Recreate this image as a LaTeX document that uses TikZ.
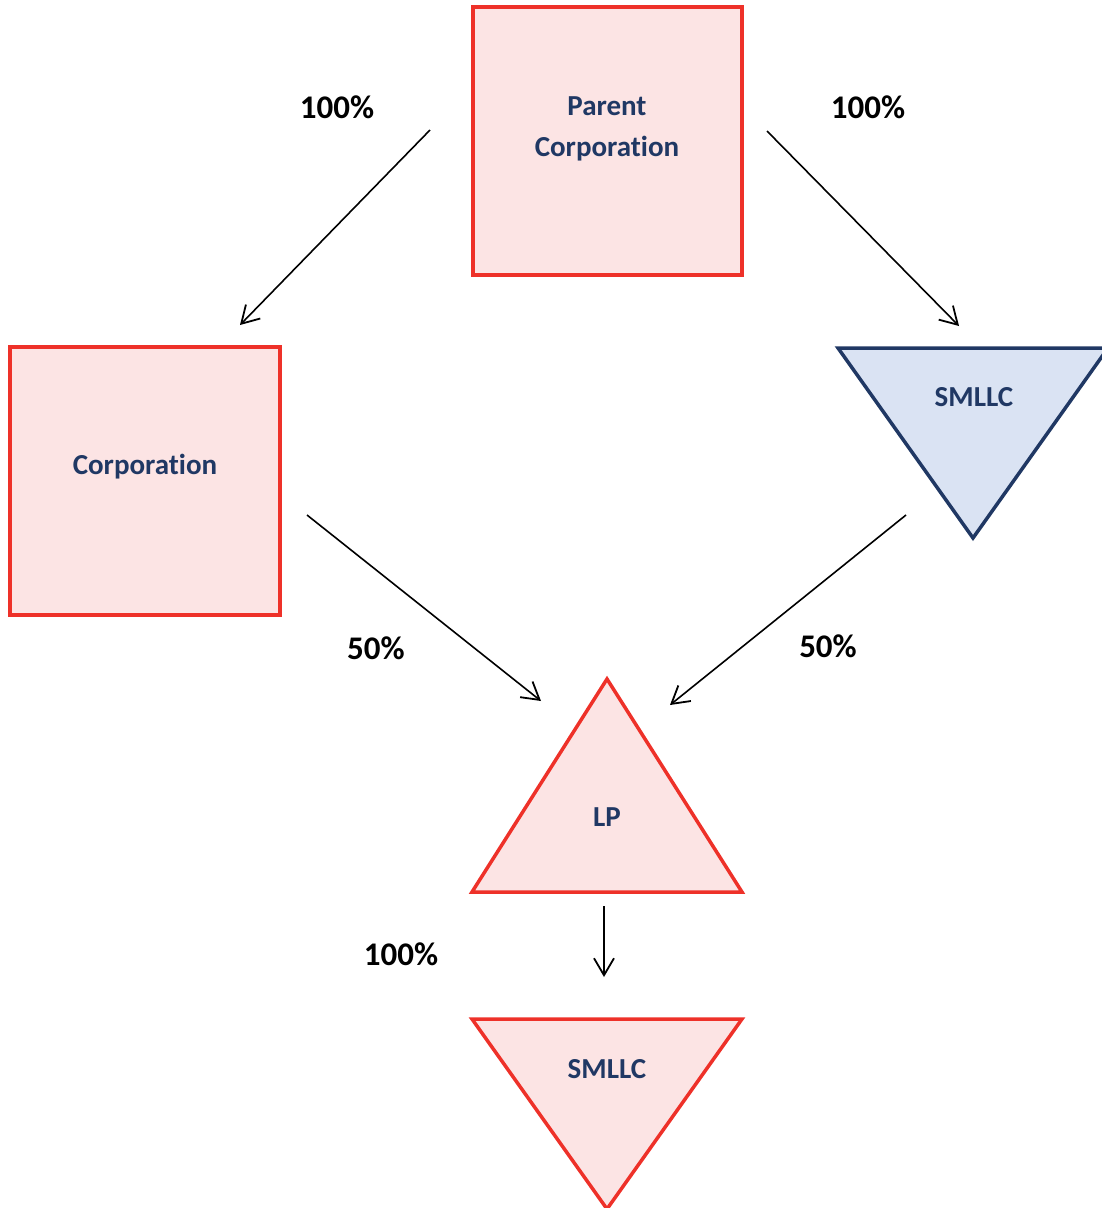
\documentclass[tikz,border=0pt]{standalone}
\usepackage{fontspec}
\setmainfont[RawFeature={-liga;-dlig;-clig}]{Carlito}
\usetikzlibrary{arrows.meta}
\definecolor{redline}{HTML}{EE3129}
\definecolor{redfill}{HTML}{FCE4E4}
\definecolor{navy}{HTML}{203864}
\definecolor{bluefill}{HTML}{DAE3F3}
\begin{document}
\begin{tikzpicture}[x=1pt,y=-1pt,
  redshape/.style={draw=redline,fill=redfill,line width=3.5pt},
  blueshape/.style={draw=navy,fill=bluefill,line width=3.5pt,line join=miter},
  lbl/.style={text=navy,font=\bfseries\fontsize{29}{41}\selectfont,align=center,inner sep=0pt},
  pct/.style={text=black,font=\bfseries\fontsize{33}{38}\selectfont,inner sep=0pt},
  own/.style={line width=1.6pt,-{Straight Barb[length=17pt,width=20pt,line width=1.8pt]}}]
\useasboundingbox (0,0) rectangle (1102,1208);
% shapes
\draw[redshape] (473,7) rectangle (742,275);
\draw[redshape] (10,347) rectangle (280,615);
\draw[blueshape] (838,348) -- (1108,348) -- (973,538) -- cycle;
\draw[redshape,line join=miter] (607,679) -- (742,892) -- (472,892) -- cycle;
\draw[redshape,line join=miter] (472,1019) -- (742,1019) -- (607,1209) -- cycle;
% labels
\node[lbl] (parent) at (607,129) {Parent\\Corporation};
\node[lbl] (corp) at (145,467) {Corporation};
\node[lbl] (smllcA) at (974,397) {SMLLC};
\node[lbl] (lp) at (607,817) {LP};
\node[lbl] (smllcB) at (607,1069) {SMLLC};
% percentages
\node[pct] (p1) at (337,107) {100\%};
\node[pct] (p2) at (868,107) {100\%};
\node[pct] (p3) at (376,648) {50\%};
\node[pct] (p4) at (828,646) {50\%};
\node[pct] (p5) at (401,954) {100\%};
% connector ends
\coordinate (a1s) at (430,130); \coordinate (a1e) at (240,325);
\coordinate (a2s) at (767,131); \coordinate (a2e) at (959,326);
\coordinate (a3s) at (307,515); \coordinate (a3e) at (541,701);
\coordinate (a4s) at (906,515); \coordinate (a4e) at (670,705);
\coordinate (a5s) at (604,906); \coordinate (a5e) at (604,977);
\draw[own] (a1s) -- (a1e);
\draw[own] (a2s) -- (a2e);
\draw[own] (a3s) -- (a3e);
\draw[own] (a4s) -- (a4e);
\draw[own] (a5s) -- (a5e);
\end{tikzpicture}
\end{document}
